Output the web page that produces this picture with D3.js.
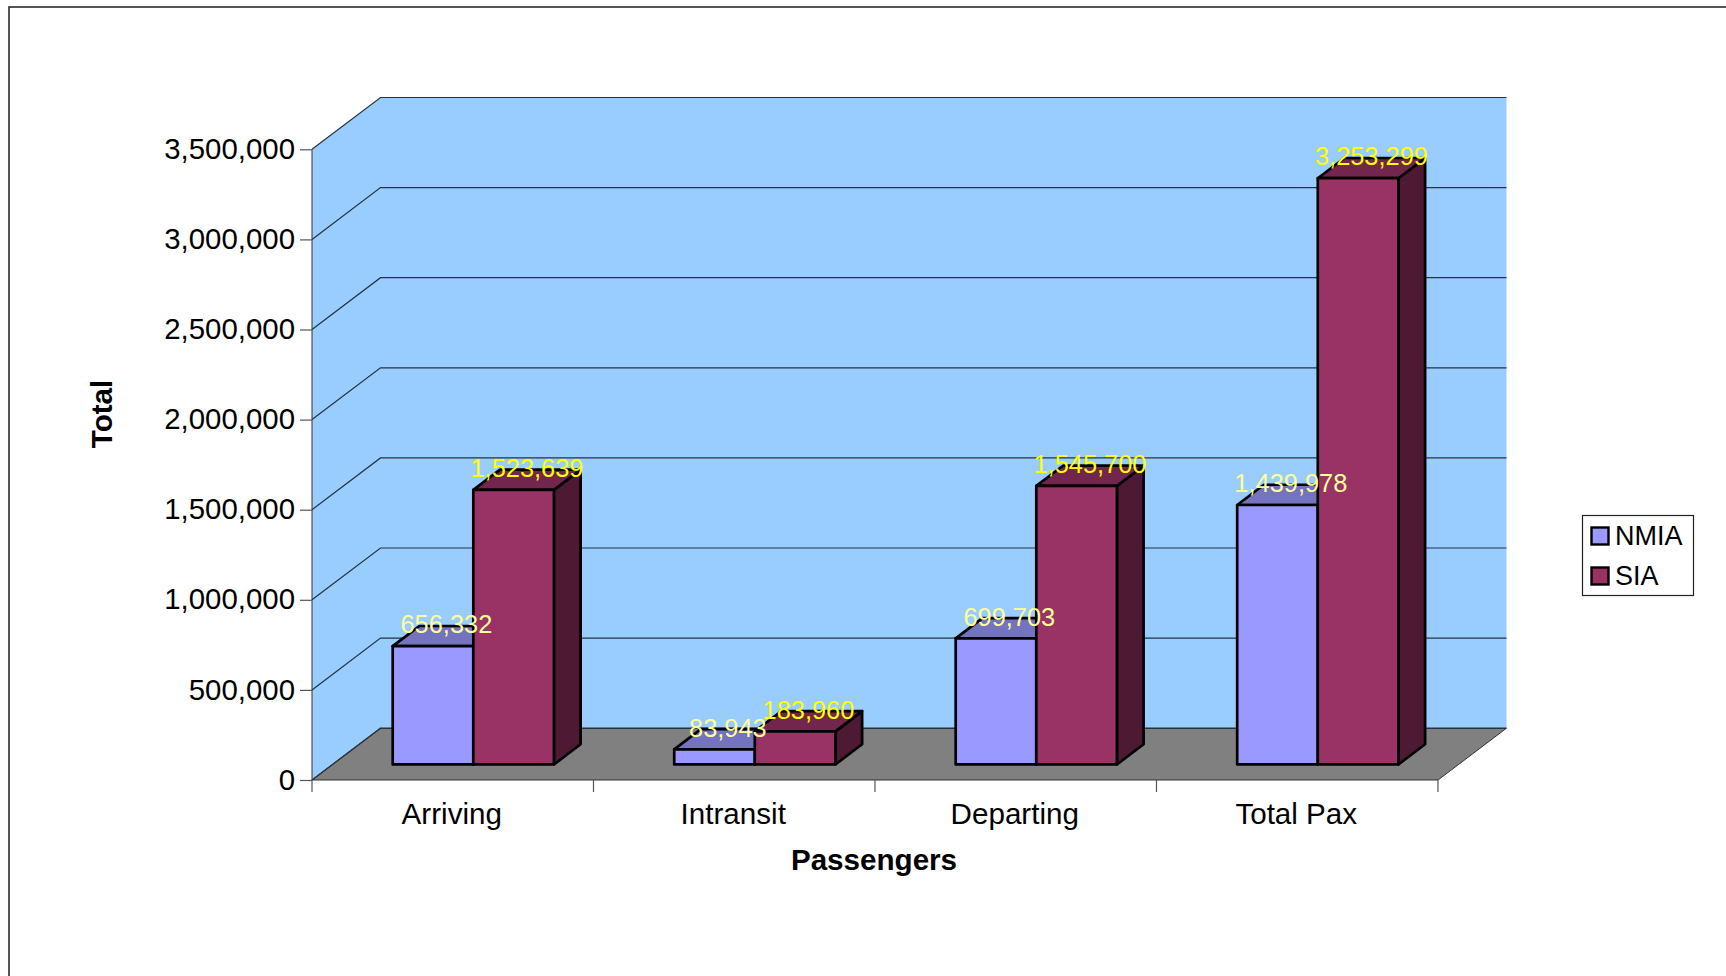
<!DOCTYPE html>
<html><head><meta charset="utf-8">
<script src="https://cdn.jsdelivr.net/npm/d3@7"></script>
<style>html,body{margin:0;padding:0;background:#fff;overflow:hidden}svg{display:block}text{font-family:"Liberation Sans",Arial,sans-serif}</style>
</head><body><svg id="c" width="1726" height="976"></svg>
<script>
const categories = ["Arriving","Intransit","Departing","Total Pax"];
const seriesNames = ["NMIA","SIA"];
const nmiaValues = [656332,83943,699703,1439978];
const siaValues = [1523639,183960,1545700,3253299];
const yTicks = [0,500000,1000000,1500000,2000000,2500000,3000000,3500000];
const frontColors = ["#9999ff","#993366"];
const topColors = ["#7373bf","#73264d"];
const sideColors = ["#4d4d80","#4d1933"];
const labelColors = ["#ffff99","#ffff00"];

const svg = d3.select("#c");
const fmt = d3.format(",");
const x0 = 312, x1 = 1438, y0 = 780, yT = 149.3;
const y = d3.scaleLinear().domain([0,3500000]).range([y0,yT]);
const xBand = d3.scaleBand().domain(categories).range([x0,x1]).paddingInner(0.4273).paddingOuter(0.2137);
const xSeries = d3.scaleBand().domain(seriesNames).range([0,xBand.bandwidth()]);
const depthX = d3.scaleLinear().domain([0,1]).range([0,68.5]);
const depthY = d3.scaleLinear().domain([0,1]).range([0,-51.8]);
const P = (px,py,z) => [px+depthX(z), py+depthY(z)];
const poly = pts => pts.map(p=>p.join(",")).join(" ");
const line = d3.line();

// border
svg.append("rect").attr("x",9).attr("y",7).attr("width",1800).attr("height",1100)
  .attr("fill","#fff").attr("stroke","#2b2b2b").attr("stroke-width",1.6);

// walls
svg.append("polygon").attr("fill","#99ccff")
  .attr("points",poly([P(x0,y(0),0),P(x0,y(3500000),0),P(x0,y(3500000),1),P(x1,y(3500000),1),P(x1,y(0),1),P(x0,y(0),1)]));
svg.append("polygon").attr("fill","#808080")
  .attr("points",poly([P(x0,y(0),0),P(x0,y(0),1),P(x1,y(0),1),P(x1,y(0),0)]));

// gridlines
yTicks.forEach(t=>{
  svg.append("path").attr("fill","none").attr("stroke","#223344").attr("stroke-width",t===0?1.4:1.2)
    .attr("d",line([P(x0,y(t),0),P(x0,y(t),1),P(x1,y(t),1)]));
});
svg.append("path").attr("fill","none").attr("stroke","#333").attr("stroke-width",1)
  .attr("d",line([P(x0,y(0),1),P(x0,y(0),0),P(x0,y(3500000),0)]));
svg.append("path").attr("fill","none").attr("stroke","#333").attr("stroke-width",1)
  .attr("d",line([P(x0,y(0),0),P(x1,y(0),0),P(x1,y(0),1)]));

// y axis
const yAxis = svg.append("g").attr("transform",`translate(${x0},0)`)
  .call(d3.axisLeft(y).tickValues(yTicks).tickFormat(fmt).tickSize(12).tickPadding(5));
yAxis.select(".domain").remove();
yAxis.selectAll("line").attr("stroke","#555").attr("stroke-width",1.2);
yAxis.selectAll("text").attr("font-size",29.4).attr("fill","#000").attr("font-family","Liberation Sans").attr("dy","0.31em");

// x axis labels + boundary ticks
const xAxis = svg.append("g").attr("transform",`translate(0,${y0})`)
  .call(d3.axisBottom(xBand).tickSize(0).tickPadding(34));
xAxis.select(".domain").remove();
xAxis.selectAll("text").attr("font-size",29.6).attr("fill","#000").attr("font-family","Liberation Sans").attr("dx",-1).attr("dy",0).attr("y",44.3);
const step = xBand.step();
categories.concat("end").forEach((c,i)=>{
  const tx = x0 + i*step;
  svg.append("line").attr("x1",tx).attr("x2",tx).attr("y1",y0).attr("y2",y0+12).attr("stroke","#555").attr("stroke-width",1.2);
});

// bars
const zF = 0.3, zB = 0.69;
const values = [nmiaValues,siaValues];
categories.forEach((c,ci)=>{
  seriesNames.forEach((s,si)=>{
    const v = values[si][ci];
    const a = xBand(c)+xSeries(s), b = a+xSeries.bandwidth();
    const g = svg.append("g").attr("stroke","#000").attr("stroke-width",2.7).attr("stroke-linejoin","round");
    g.append("polygon").attr("fill",sideColors[si]).attr("points",poly([P(b,y(0),zF),P(b,y(v),zF),P(b,y(v),zB),P(b,y(0),zB)]));
    g.append("polygon").attr("fill",topColors[si]).attr("points",poly([P(a,y(v),zF),P(a,y(v),zB),P(b,y(v),zB),P(b,y(v),zF)]));
    g.append("polygon").attr("fill",frontColors[si]).attr("points",poly([P(a,y(0),zF),P(a,y(v),zF),P(b,y(v),zF),P(b,y(0),zF)]));
  });
});

// data labels
categories.forEach((c,ci)=>{
  seriesNames.forEach((s,si)=>{
    const v = values[si][ci];
    const a = xBand(c)+xSeries(s);
    const p = P(a+xSeries.bandwidth()/2,y(v),(zF+zB)/2);
    svg.append("text").attr("x",p[0]).attr("y",P(a,y(v),zF)[1]-12.8)
      .attr("text-anchor","middle").attr("font-size",25.4).attr("fill",labelColors[si]).text(fmt(v));
  });
});

// axis titles
svg.append("text").attr("x",874).attr("y",870).attr("text-anchor","middle").attr("font-size",29.6).attr("font-weight","bold").text("Passengers");
svg.append("text").attr("transform","translate(112,414) rotate(-90)").attr("text-anchor","middle").attr("font-size",29.6).attr("font-weight","bold").text("Total");

// legend
svg.append("rect").attr("x",1582.5).attr("y",515.5).attr("width",111).attr("height",80).attr("fill","#fff").attr("stroke","#222").attr("stroke-width",1.2);
seriesNames.forEach((s,i)=>{
  const ly = 527.5+i*40;
  svg.append("rect").attr("x",1591.5).attr("y",ly).attr("width",17).attr("height",17).attr("fill",frontColors[i]).attr("stroke","#000").attr("stroke-width",2.4);
  svg.append("text").attr("x",1615).attr("y",545+i*40).attr("font-size",27).attr("fill","#000").text(s);
});
</script></body></html>
